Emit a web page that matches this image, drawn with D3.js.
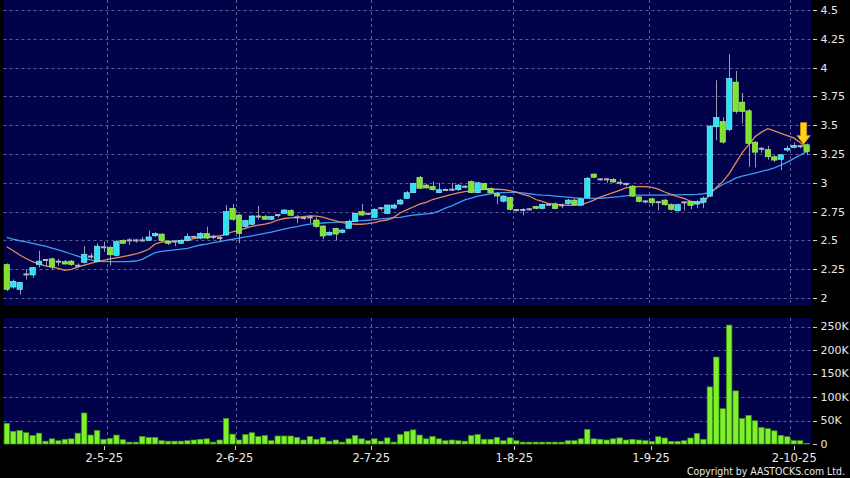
<!DOCTYPE html>
<html><head><meta charset="utf-8">
<script src="https://cdn.jsdelivr.net/npm/d3@7"></script>
<style>html,body{margin:0;padding:0;background:#000;} svg{display:block}</style>
</head><body>
<svg id="chart" width="850" height="478"></svg>
<script>
// ---- data ----
const openP = [2.29,2.095,2.075,2.205,2.20,2.29,2.33,2.34,2.315,2.315,2.32,2.28,2.31,2.36,2.315,2.44,2.44,2.37,2.50,2.50,
2.50,2.50,2.50,2.54,2.555,2.495,2.49,2.475,2.50,2.53,2.52,2.56,2.53,2.52,2.547,2.779,2.72,2.62,2.64,2.707,
2.707,2.683,2.72,2.735,2.76,2.70,2.695,2.70,2.677,2.625,2.547,2.605,2.57,2.605,2.665,2.75,2.73,2.70,2.78,2.735,
2.78,2.816,2.865,2.914,3.048,2.98,2.969,2.914,2.9375,2.94,2.94,2.966,3.01,2.914,2.995,2.95,2.908,2.84,2.874,2.764,
2.764,2.77,2.795,2.778,2.81,2.816,2.805,2.82,2.85,2.806,2.874,3.076,3.03,3.03,3.03,3.0,2.99,2.971,2.878,2.838,
2.861,2.832,2.85,2.81,2.757,2.83,2.838,2.815,2.832,2.884,3.486,3.532,3.463,3.874,3.70,3.625,3.353,3.295,3.289,3.226,
3.203,3.284,3.307,3.318,3.33];
const highP = [2.30,2.16,2.14,2.25,2.27,2.41,2.34,2.35,2.34,2.33,2.33,2.30,2.45,2.39,2.475,2.49,2.45,2.50,2.51,2.52,
2.51,2.53,2.585,2.57,2.56,2.50,2.50,2.51,2.56,2.54,2.57,2.62,2.55,2.54,2.807,2.816,2.73,2.68,2.72,2.80,
2.72,2.71,2.73,2.77,2.77,2.72,2.71,2.72,2.70,2.63,2.58,2.61,2.60,2.68,2.74,2.816,2.74,2.78,2.79,2.81,
2.82,2.86,2.93,3.00,3.06,2.99,3.01,3.00,2.95,3.00,2.99,2.98,3.02,3.01,3.00,2.96,2.92,2.89,2.88,2.77,
2.78,2.78,2.80,2.82,2.82,2.83,2.82,2.86,2.86,2.87,3.05,3.08,3.04,3.04,3.04,3.03,3.00,2.98,2.88,2.85,
2.87,2.84,2.86,2.82,2.82,2.84,2.84,2.85,2.88,3.50,3.89,3.57,4.117,3.972,3.78,3.64,3.36,3.31,3.32,3.24,
3.25,3.32,3.35,3.33,3.34];
const lowP = [2.06,2.08,2.03,2.16,2.175,2.265,2.27,2.245,2.28,2.29,2.28,2.26,2.30,2.34,2.31,2.40,2.28,2.36,2.47,2.46,
2.48,2.49,2.50,2.53,2.49,2.46,2.45,2.47,2.49,2.52,2.51,2.51,2.51,2.49,2.54,2.67,2.475,2.61,2.63,2.68,
2.68,2.675,2.70,2.73,2.71,2.65,2.68,2.65,2.61,2.51,2.54,2.498,2.56,2.60,2.66,2.71,2.72,2.69,2.76,2.73,
2.77,2.81,2.86,2.91,2.95,2.95,2.93,2.91,2.93,2.93,2.93,2.95,2.91,2.91,2.94,2.91,2.816,2.83,2.76,2.75,
2.718,2.76,2.77,2.77,2.80,2.77,2.78,2.81,2.80,2.80,2.87,3.04,3.02,3.00,3.00,2.98,2.97,2.88,2.83,2.82,
2.80,2.76,2.80,2.76,2.75,2.76,2.77,2.78,2.78,2.88,3.37,3.34,3.45,3.60,3.515,3.139,3.133,3.26,3.20,3.18,
3.11,3.27,3.30,3.30,3.24];
const closeP = [2.075,2.145,2.135,2.205,2.265,2.32,2.33,2.27,2.315,2.295,2.29,2.28,2.38,2.36,2.45,2.44,2.375,2.49,2.475,2.50,
2.50,2.50,2.53,2.56,2.50,2.475,2.49,2.50,2.535,2.53,2.56,2.52,2.53,2.52,2.75,2.683,2.56,2.672,2.712,2.707,
2.683,2.707,2.72,2.764,2.718,2.70,2.695,2.70,2.62,2.538,2.57,2.555,2.59,2.665,2.735,2.72,2.73,2.77,2.78,2.807,
2.807,2.85,2.914,2.995,2.952,2.955,2.94,2.94,2.9375,2.94,2.98,2.966,2.914,3.0,2.943,2.914,2.885,2.885,2.77,2.764,
2.764,2.77,2.778,2.812,2.81,2.776,2.805,2.85,2.81,2.86,3.04,3.048,3.03,3.03,3.007,3.0,2.99,2.884,2.838,2.838,
2.826,2.832,2.81,2.77,2.81,2.83,2.803,2.838,2.867,3.492,3.567,3.353,3.906,3.619,3.619,3.341,3.266,3.295,3.226,3.197,
3.243,3.30,3.324,3.318,3.272];
const volumeK = [44,27,28.6,24,18,23,6,11,7,10,11,23,66,19,29,10,12,19,9,4,
4,16,14,14,7,6,6,6,7,8.5,10,11,4,8.5,54,21,8.5,20,24,16,
18,7,17,17,17,14,8.5,16,10,14,6,8.5,4,11,18,11,7,11,6,13,
4,20,27,30,19,11,16,11,7,8.5,7,6,18,20,10,10,14,7,13,7,
4,4,4,4,4,4,4,7,7,11,31,11,10,8.5,11,13,8.5,10,8.5,7,
5.6,15.5,12.7,5.6,5.6,7,12.7,22.6,10,121.5,185,75,253,113,54,61,49.4,35,32.5,28,
18.4,15.5,7,7,1];
const ma10 = [2.445,2.41,2.373,2.343,2.315,2.295,2.278,2.268,2.258,2.24,2.249,2.268,2.286,2.30,2.315,2.327,2.339,2.349,2.359,2.37,
2.382,2.40,2.423,2.469,2.486,2.49,2.492,2.498,2.503,2.515,2.527,2.532,2.535,2.538,2.555,2.575,2.59,2.605,2.622,2.632,
2.642,2.655,2.677,2.69,2.695,2.70,2.706,2.712,2.71,2.703,2.685,2.67,2.655,2.645,2.64,2.64,2.645,2.655,2.67,2.677,
2.70,2.74,2.765,2.79,2.815,2.83,2.855,2.87,2.885,2.90,2.912,2.923,2.93,2.938,2.943,2.945,2.944,2.94,2.932,2.92,
2.90,2.885,2.855,2.838,2.82,2.815,2.808,2.805,2.804,2.808,2.827,2.85,2.875,2.895,2.915,2.935,2.955,2.965,2.967,2.966,
2.96,2.945,2.92,2.90,2.88,2.864,2.84,2.82,2.83,2.90,2.96,3.01,3.08,3.17,3.26,3.33,3.40,3.44,3.47,3.45,
3.43,3.41,3.39,3.35,3.31];
const ma20 = [2.527,2.51,2.497,2.487,2.475,2.462,2.45,2.433,2.417,2.40,2.382,2.363,2.344,2.33,2.321,2.317,2.315,2.315,2.315,2.317,
2.321,2.336,2.365,2.393,2.405,2.411,2.417,2.424,2.431,2.445,2.46,2.468,2.48,2.49,2.50,2.51,2.52,2.53,2.54,2.55,
2.561,2.572,2.585,2.598,2.61,2.62,2.632,2.642,2.647,2.651,2.654,2.657,2.66,2.663,2.667,2.671,2.675,2.68,2.686,2.691,
2.697,2.70,2.71,2.72,2.725,2.73,2.735,2.755,2.78,2.80,2.825,2.851,2.868,2.885,2.894,2.905,2.912,2.915,2.917,2.917,
2.912,2.905,2.898,2.893,2.89,2.885,2.88,2.875,2.87,2.866,2.865,2.865,2.866,2.87,2.875,2.88,2.887,2.893,2.893,2.893,
2.893,2.893,2.893,2.895,2.896,2.897,2.898,2.90,2.905,2.915,2.95,2.985,3.01,3.04,3.058,3.07,3.085,3.10,3.113,3.13,
3.153,3.18,3.21,3.24,3.27];
const priceTicks = [2,2.25,2.5,2.75,3,3.25,3.5,3.75,4,4.25,4.5];
const priceTickLabels = ["2","2.25","2.5","2.75","3","3.25","3.5","3.75","4","4.25","4.5"];
const volTicks = [0,50,100,150,200,250];
const volTickLabels = ["0","50K","100K","150K","200K","250K"];
const dateTickIndex = [15,35,56,78,99,121];
const dateTickLabels = ["2-5-25","2-6-25","2-7-25","1-8-25","1-9-25","2-10-25"];

// ---- drawing ----
const svg = d3.select("#chart");
const n = openP.length;
const idx = d3.range(n);
const panelL = 3.5, panelR = 811;
const x = d3.scaleLinear().domain([0, n-1]).range([6.8, 6.8 + (n-1)*6.45]);
const step = x(1) - x(0);
// the date axis labels sit on their own slightly wider scale in the original
const xAxis = d3.scaleLinear().domain([0, n-1]).range([6.7, 813.8]);
const yP = d3.scaleLinear().domain([2, 4.5]).range([298, 10]);
const yV = d3.scaleLinear().domain([0, 250]).range([444, 326.5]);

svg.append("rect").attr("width",850).attr("height",478).attr("fill","#000");
svg.append("rect").attr("x",panelL).attr("y",0).attr("width",panelR-panelL).attr("height",305.5).attr("fill","#02024a");
svg.append("rect").attr("x",panelL).attr("y",318).attr("width",panelR-panelL).attr("height",126).attr("fill","#02024a");

const gridCol = "#5c5c94";
svg.append("g").selectAll("line").data(priceTicks).join("line")
  .attr("x1",panelL).attr("x2",panelR).attr("y1",d=>Math.round(yP(d))+0.5).attr("y2",d=>Math.round(yP(d))+0.5)
  .attr("stroke",gridCol).attr("stroke-dasharray","3,3");
svg.append("g").selectAll("line").data(volTicks.slice(1)).join("line")
  .attr("x1",panelL).attr("x2",panelR).attr("y1",d=>Math.round(yV(d))+0.5).attr("y2",d=>Math.round(yV(d))+0.5)
  .attr("stroke",gridCol).attr("stroke-dasharray","3,3");
const gx = i => Math.round(x(i) + step/2) + 0.5;
[[0,305.5],[318,444]].forEach(([a,b])=>{
  svg.append("g").selectAll("line").data(dateTickIndex).join("line")
    .attr("x1",gx).attr("x2",gx).attr("y1",a).attr("y2",b)
    .attr("stroke",gridCol).attr("stroke-dasharray","3,3");
});

// volume bars
svg.append("g").selectAll("rect").data(idx).join("rect")
  .attr("x",i=>x(i)-2.7).attr("width",5.4)
  .attr("y",i=>yV(volumeK[i])).attr("height",i=>Math.max(0.5, yV(0)-yV(volumeK[i])))
  .attr("fill","#7ef02c").attr("stroke","#3f9a12").attr("stroke-width",0.7);

// MA lines
const line = arr => d3.line().x(i=>x(i)).y(i=>yP(arr[i])).curve(d3.curveLinear)(idx);
svg.append("path").attr("d",line(ma20)).attr("fill","none").attr("stroke","#3d9cf0").attr("stroke-width",1.3);
svg.append("path").attr("d",line(ma10)).attr("fill","none").attr("stroke","#e58a5c").attr("stroke-width",1.3);

// candles
const cg = svg.append("g");
cg.selectAll("line").data(idx).join("line")
  .attr("x1",i=>Math.round(x(i))+0.5).attr("x2",i=>Math.round(x(i))+0.5)
  .attr("y1",i=>yP(highP[i])).attr("y2",i=>yP(lowP[i]))
  .attr("stroke","#9a9aae").attr("stroke-width",1);
cg.selectAll("rect").data(idx).join("rect")
  .attr("x",i=>x(i)-2.7).attr("width",5.4)
  .attr("y",i=> closeP[i]===openP[i] ? yP(closeP[i])-1 : yP(Math.max(openP[i],closeP[i])))
  .attr("height",i=> closeP[i]===openP[i] ? 2 : Math.max(1.5, Math.abs(yP(openP[i])-yP(closeP[i]))))
  .attr("fill",i=> closeP[i]>openP[i] ? "#2ee2f2" : (closeP[i]<openP[i] ? "#7ee42c" : "#b4b4c4"))
  .attr("stroke",i=> closeP[i]>openP[i] ? "#9af2fa" : (closeP[i]<openP[i] ? "#b2f07c" : "none"))
  .attr("stroke-width",0.6);

// arrow marker above last candle
const last = n-1;
const ax = x(last) - 3, ay = yP(highP[last]) + 0.5;
svg.append("path")
  .attr("d",`M${ax},${ay} L${ax-6.5},${ay-8.5} L${ax-3},${ay-8.5} L${ax-3},${ay-21.5} L${ax+3},${ay-21.5} L${ax+3},${ay-8.5} L${ax+6.5},${ay-8.5} Z`)
  .attr("fill","#ffd21a").attr("stroke","#e09a10").attr("stroke-width",0.8);

// right axes
const font = "DejaVu Sans, Verdana, sans-serif";
const ax1 = svg.append("g");
ax1.selectAll("line").data(priceTicks).join("line")
  .attr("x1",813).attr("x2",817).attr("y1",d=>Math.round(yP(d))+0.5).attr("y2",d=>Math.round(yP(d))+0.5)
  .attr("stroke","#cfcfcf");
ax1.selectAll("text").data(priceTicks).join("text")
  .attr("x",820.5).attr("y",d=>yP(d)).attr("dy","0.36em")
  .attr("fill","#e8e8e8").attr("font-family",font).attr("font-size",11)
  .text((d,k)=>priceTickLabels[k]);
const ax2 = svg.append("g");
ax2.selectAll("line").data(volTicks).join("line")
  .attr("x1",813).attr("x2",817).attr("y1",d=>Math.round(yV(d))+0.5).attr("y2",d=>Math.round(yV(d))+0.5)
  .attr("stroke","#cfcfcf");
ax2.selectAll("text").data(volTicks).join("text")
  .attr("x",820.5).attr("y",d=>yV(d)).attr("dy","0.36em")
  .attr("fill","#e8e8e8").attr("font-family",font).attr("font-size",11)
  .text((d,k)=>volTickLabels[k]);

// date axis
const ax3 = svg.append("g");
ax3.selectAll("line").data(dateTickIndex).join("line")
  .attr("x1",i=>Math.round(xAxis(i))+0.5).attr("x2",i=>Math.round(xAxis(i))+0.5).attr("y1",446).attr("y2",450)
  .attr("stroke","#cfcfcf");
ax3.selectAll("text").data(dateTickIndex).join("text")
  .attr("x",i=>xAxis(i)).attr("y",462).attr("text-anchor","middle")
  .attr("fill","#e8e8e8").attr("font-family",font).attr("font-size",11.5)
  .text((d,k)=>dateTickLabels[k]);

// copyright: narrow rendering via horizontal scale, right edge at x=845
const cp = svg.append("text").attr("x",0).attr("y",0)
  .attr("fill","#e8e8e8").attr("font-family",font).attr("font-size",11)
  .text("Copyright by AASTOCKS.com Ltd.");
const w = cp.node().getComputedTextLength();
const sx = Math.min(1, 158 / w);
cp.attr("transform",`translate(${845 - w*sx},475) scale(${sx},1)`);
</script>
</body></html>
